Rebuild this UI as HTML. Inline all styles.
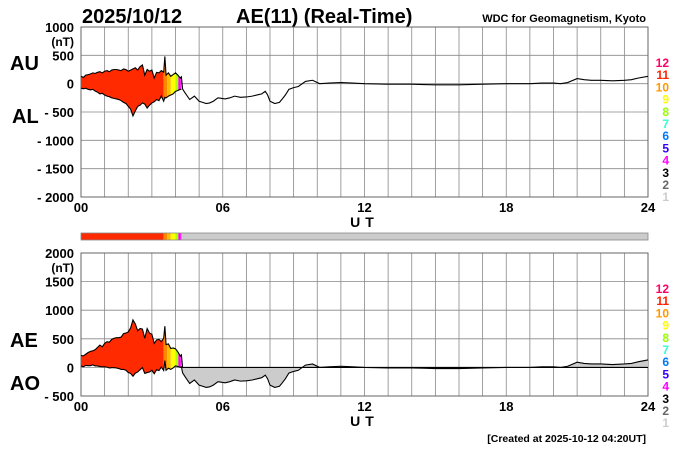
<!DOCTYPE html>
<html><head><meta charset="utf-8"><style>
html,body{margin:0;padding:0;background:#fff;}
svg{display:block;font-family:"Liberation Sans",Arial,sans-serif;font-weight:bold;}
</style></head><body>
<svg id="c" width="700" height="450" viewBox="0 0 700 450" xmlns="http://www.w3.org/2000/svg">
<text x="82" y="23" font-size="20">2025/10/12</text>
<text x="236" y="23" font-size="20">AE(11) (Real-Time)</text>
<text x="646" y="22" font-size="11" text-anchor="end">WDC for Geomagnetism, Kyoto</text>
<text x="646" y="442" font-size="10.5" text-anchor="end">[Created at 2025-10-12 04:20UT]</text>
<text x="10" y="70" font-size="20">AU</text>
<text x="12" y="123" font-size="20">AL</text>
<text x="10" y="347" font-size="20">AE</text>
<text x="10" y="390" font-size="20">AO</text>
<g id="g"></g>
</svg>
<script>
const times=[0,0.1,0.2,0.3,0.4,0.5,0.6,0.7,0.8,0.9,1,1.1,1.2,1.3,1.4,1.5,1.6,1.7,1.8,1.9,2,2.1,2.2,2.3,2.4,2.5,2.6,2.7,2.8,2.9,3,3.1,3.2,3.3,3.4,3.5,3.55,3.6,3.7,3.8,3.9,4,4.1,4.2,4.25,4.3,4.4,4.6,4.8,5,5.15,5.3,5.45,5.6,5.8,6.1,6.3,6.5,6.75,7,7.25,7.5,7.65,7.8,7.9,8,8.2,8.4,8.5,8.65,8.8,9,9.2,9.5,9.8,10.1,10.5,11,11.5,12,13,14,14.5,15,16,17,18,19,19.5,20,20.3,20.6,21,21.3,21.6,22,22.5,23,23.3,23.6,24];
const auVals=[130,110,150,160,170,190,180,200,210,190,220,230,210,240,250,250,240,230,260,250,220,240,260,280,240,300,330,150,250,220,240,100,200,190,230,200,480,150,190,130,160,190,150,100,120,-95,-160,-280,-220,-310,-330,-350,-340,-310,-250,-270,-250,-220,-240,-235,-220,-195,-180,-135,-200,-310,-350,-330,-280,-200,-100,-70,-50,40,60,0,10,20,10,0,-10,-10,-15,-20,-20,-10,0,0,10,10,0,20,90,70,60,60,50,60,70,100,130];
const alVals=[-80,-90,-80,-100,-110,-100,-130,-150,-180,-170,-200,-220,-230,-250,-260,-270,-280,-300,-330,-350,-400,-450,-570,-480,-400,-380,-340,-360,-430,-380,-340,-320,-280,-300,-220,-310,-240,-250,-220,-200,-180,-135,-120,-100,-100,-95,-160,-280,-220,-310,-330,-350,-340,-310,-250,-270,-250,-220,-240,-235,-220,-195,-180,-135,-200,-310,-350,-330,-280,-200,-100,-70,-50,40,60,0,10,20,10,0,-10,-10,-15,-20,-20,-10,0,0,10,10,0,20,90,70,60,60,50,60,70,100,130];
const yTicks1=[1000,500,0,-500,-1000,-1500,-2000];
const yTicks2=[2000,1500,1000,500,0,-500];
const xTicks=["00","06","12","18","24"];
const stationNums=[12,11,10,9,8,7,6,5,4,3,2,1];
const stationCols=["#ff0066","#ff2200","#ff9900","#ffff00","#99ff00","#33ffcc","#0077ff","#3300ff","#ff00ff","#000000","#666666","#cccccc"];
const segStarts=[0,3.5,3.65,3.8,4.0,4.12,4.2];
const segCols=["#ff2a00","#ff8800","#ffbb00","#ffff00","#aaff00","#ff00ff","#ff00ff"];
const dataEnd=4.25;
const NS="http://www.w3.org/2000/svg";
const g=document.getElementById('g');
const X0=81,X1=648;
const xs=h=>X0+(X1-X0)*h/24;
const p1={top:27,bot:197,max:1000,min:-2000};
const p2={top:253,bot:396,max:2000,min:-500};
const ys=(p,v)=>p.top+(p.bot-p.top)*(p.max-v)/(p.max-p.min);
function el(t,a,parent){const e=document.createElementNS(NS,t);for(const k in a)e.setAttribute(k,a[k]);(parent||g).appendChild(e);return e;}
function interp(arr,h){for(let i=0;i<times.length-1;i++){if(h<=times[i+1]){const f=(h-times[i])/(times[i+1]-times[i]);return arr[i]+f*(arr[i+1]-arr[i]);}}return arr[arr.length-1];}
const aeVals=auVals.map((u,i)=>times[i]<=dataEnd?u-alVals[i]:0);
const aoVals=auVals.map((u,i)=>(u+alVals[i])/2);
function grid(p,ticks,name){
  for(let h=0;h<=24;h++){const l=el('line',{x1:xs(h),x2:xs(h),y1:p.top,y2:p.bot,stroke:'#888','stroke-width':0.8});
    }
  ticks.forEach(v=>{const y=ys(p,v);const l=el('line',{x1:X0,x2:X1,y1:y,y2:y,stroke:'#888','stroke-width':0.8});
    
    const t=el('text',{x:74,y:y+5,'font-size':13,'text-anchor':'end'});t.textContent=(v<0?'- '+(-v):v);
    });
  const u=el('text',{x:74,y:p.top+19,'font-size':12,'text-anchor':'end'});u.textContent='(nT)';
  
  const r=el('rect',{x:X0,y:p.top,width:X1-X0,height:p.bot-p.top,fill:'none',stroke:'#666','stroke-width':1});
  
  xTicks.forEach((s,i)=>{const t=el('text',{x:xs(i*6),y:p.bot+15,'font-size':13,'text-anchor':'middle'});t.textContent=s;
    });
  const ut=el('text',{x:xs(12),y:p.bot+30,'font-size':14,'text-anchor':'middle','letter-spacing':'5'});ut.textContent='UT';
  
  stationNums.forEach((n,i)=>{const t=el('text',{x:669,y:p.top+40+i*12.2,'font-size':12,'text-anchor':'end',fill:stationCols[i]});t.textContent=n;
    });
}
grid(p1,yTicks1,'au-al-panel');grid(p2,yTicks2,'ae-ao-panel');
function fillBand(p,topArr,botArr,name){
  for(let s=0;s<segStarts.length;s++){
    const a=segStarts[s],b=s+1<segStarts.length?segStarts[s+1]:dataEnd;if(b<=a)continue;
    const pts=[];const hs=[a,b];
    times.forEach(t=>{if(t>a&&t<b)hs.push(t);});hs.sort((x,y)=>x-y);
    hs.forEach(h=>pts.push(xs(h)+','+ys(p,interp(topArr,h))));
    hs.slice().reverse().forEach(h=>pts.push(xs(h)+','+ys(p,interp(botArr,h))));
    const pg=el('polygon',{points:pts.join(' '),fill:segCols[s]});
    
  }
}
fillBand(p1,auVals,alVals,'au-al');
fillBand(p2,aeVals,aoVals,'ae-ao');
{const pts=[xs(dataEnd)+','+ys(p2,0)];times.forEach((t,i)=>{if(t>=dataEnd)pts.push(xs(t)+','+ys(p2,aoVals[i]));});
 pts.push(xs(24)+','+ys(p2,0));
 const pg=el('polygon',{points:pts.join(' '),fill:'#cccccc'});
 }
function line(p,arr,name,onlyTo){const pts=[];times.forEach((t,i)=>{if(onlyTo===undefined||t<=onlyTo)pts.push(xs(t)+','+ys(p,arr[i]));});
  const pl=el('polyline',{points:pts.join(' '),fill:'none',stroke:'#000','stroke-width':1.1});
  }
line(p1,auVals,'au-line');line(p1,alVals,'al-line',dataEnd);
line(p2,aeVals,'ae-line');line(p2,aoVals,'ao-line');
const sy=233,sh=7;
for(let s=0;s<segStarts.length;s++){const a=segStarts[s],b=s+1<segStarts.length?segStarts[s+1]:dataEnd;if(b<=a)continue;
  const r=el('rect',{x:xs(a),y:sy,width:xs(b)-xs(a),height:sh,fill:segCols[s]});
  }
{const r=el('rect',{x:xs(dataEnd),y:sy,width:X1-xs(dataEnd),height:sh,fill:'#cccccc'});
 
 const f=el('rect',{x:X0,y:sy,width:X1-X0,height:sh,fill:'none',stroke:'#888','stroke-width':0.8});
 }
</script>
</body></html>
